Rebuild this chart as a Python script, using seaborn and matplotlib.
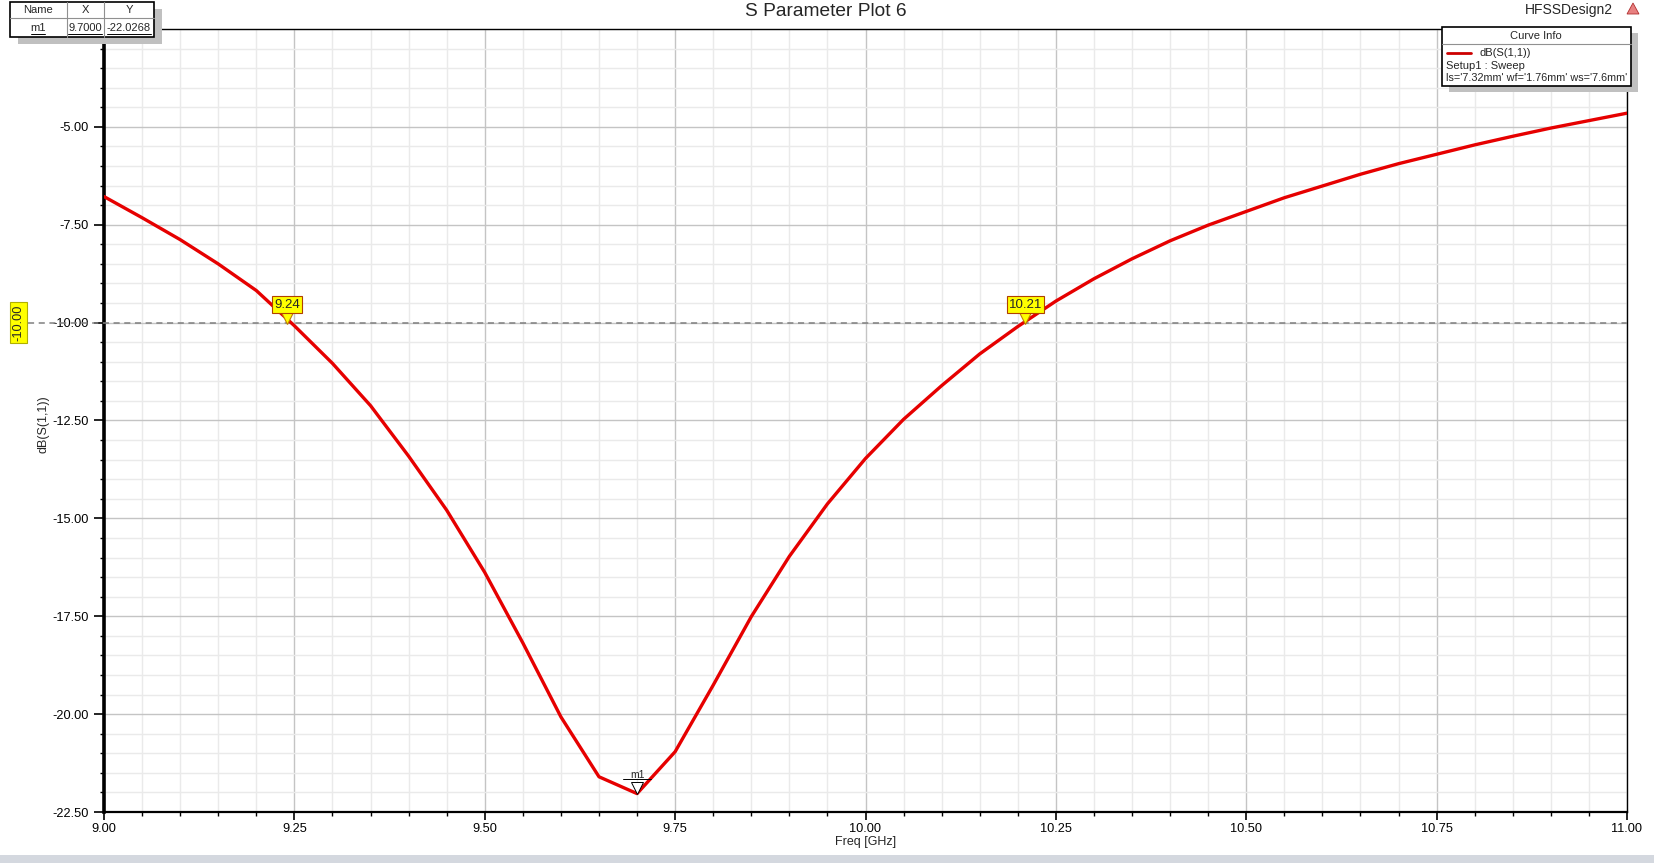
import numpy as np
import pandas as pd
import matplotlib
matplotlib.use("Agg")
import matplotlib.pyplot as plt
import matplotlib.transforms as mtransforms
from matplotlib.patches import Rectangle, Polygon
from matplotlib.ticker import MultipleLocator, FormatStrFormatter
import seaborn as sns

# values
freq = [9.00, 9.05, 9.10, 9.15, 9.20, 9.25, 9.30, 9.35, 9.40, 9.45, 9.50,
        9.55, 9.60, 9.65, 9.70, 9.75, 9.80, 9.85, 9.90, 9.95, 10.00,
        10.05, 10.10, 10.15, 10.20, 10.25, 10.30, 10.35, 10.40, 10.45, 10.50,
        10.55, 10.60, 10.65, 10.70, 10.75, 10.80, 10.85, 10.90, 10.95, 11.00]
s11 = [-6.78, -7.32, -7.88, -8.50, -9.18, -10.08, -11.04, -12.12, -13.41, -14.79, -16.38,
       -18.18, -20.07, -21.60, -22.03, -20.96, -19.26, -17.51, -15.97, -14.63, -13.47,
       -12.47, -11.61, -10.80, -10.10, -9.45, -8.88, -8.37, -7.91, -7.51, -7.16,
       -6.81, -6.51, -6.21, -5.94, -5.70, -5.46, -5.24, -5.03, -4.84, -4.65]
cross_x = [9.24, 10.21]
cross_labels = ["9.24", "10.21"]
ref_level = -10.0
m1_x, m1_y = 9.70, -22.0268
title = "S Parameter Plot 6"
design = "HFSSDesign2"
curve_name = "dB(S(1,1))"
setup_name = "Setup1 : Sweep"
params = "ls='7.32mm' wf='1.76mm' ws='7.6mm'"

df = pd.DataFrame({"Freq": freq, "S11": s11})

sns.set_style("white")
plt.rcParams["font.family"] = ["Liberation Sans", "DejaVu Sans"]

W, H = 1654, 863
fig = plt.figure(figsize=(W / 100, H / 100), dpi=100)
ax = fig.add_axes([104 / W, 1 - 812 / H, (1627 - 104) / W, (812 - 29) / H])

def fx(px):
    return px / W

def fy(py):
    return 1 - py / H

sns.lineplot(data=df, x="Freq", y="S11", ax=ax, color="#e60000", linewidth=2.4, zorder=5)

ax.set_xlim(9.0, 11.0)
ax.set_ylim(-22.5, -2.5)
ax.xaxis.set_major_locator(MultipleLocator(0.25))
ax.xaxis.set_minor_locator(MultipleLocator(0.05))
ax.yaxis.set_minor_locator(MultipleLocator(0.5))
# top label (-2.50) is not drawn in HFSS
ax.set_yticks([-22.5, -20, -17.5, -15, -12.5, -10, -7.5, -5])
ax.xaxis.set_major_formatter(FormatStrFormatter("%.2f"))
ax.yaxis.set_major_formatter(FormatStrFormatter("%.2f"))
ax.grid(which="major", color="#c4c4c4", linewidth=1.0)
ax.grid(which="minor", color="#eaeaea", linewidth=1.0)
ax.set_axisbelow(True)
ax.tick_params(bottom=True, left=True, top=False, right=False, which="both")
ax.tick_params(axis="y", which="major", direction="out", length=7, width=1.2,
               labelsize=9.2, pad=4, colors="black")
ax.tick_params(axis="y", which="minor", direction="out", length=3, width=1.0, colors="black")
ax.tick_params(axis="x", which="major", direction="out", length=6, width=1.2,
               labelsize=9.2, pad=2, colors="black")
ax.tick_params(axis="x", which="minor", direction="out", length=3, width=1.0, colors="black")
ax.set_xlabel("Freq [GHz]", fontsize=9)
ax.xaxis.set_label_coords(0.5, -0.038)
ax.xaxis.label.set_va("center")
ax.set_ylabel("dB(S(1,1))", fontsize=9)
ax.yaxis.set_label_coords(-0.0355, 0.495)
for side, lw in [("left", 2.6), ("bottom", 1.6), ("top", 1.0), ("right", 1.0)]:
    ax.spines[side].set_visible(True)
    ax.spines[side].set_color("black")
    ax.spines[side].set_linewidth(lw)

# -10 dB reference line, runs out to the left margin
ax.plot([-0.05, 1.0], [ref_level, ref_level], transform=ax.get_yaxis_transform(),
        color="#808080", linestyle=(0, (4, 3)), linewidth=1.1, clip_on=False, zorder=4)
ax.text(-0.056, ref_level, "-10.00", transform=ax.get_yaxis_transform(), rotation=90,
        ha="center", va="center", fontsize=9.2,
        bbox=dict(boxstyle="square,pad=0.18", fc="#ffff00", ec="#b0b000", lw=0.8))

# crossing markers
for cx, lab in zip(cross_x, cross_labels):
    tri = mtransforms.offset_copy(ax.transData, fig=fig, x=0, y=7, units="dots")
    ax.plot([cx], [ref_level], marker="v", markersize=11, color="#ffff00",
            markeredgecolor="#c08000", markeredgewidth=0.8, transform=tri, zorder=7)
    ax.annotate(lab, xy=(cx, ref_level), xytext=(0, 13), textcoords="offset points",
                ha="center", va="center", fontsize=9.5, zorder=8,
                bbox=dict(boxstyle="square,pad=0.16", fc="#ffff00", ec="#b04000", lw=0.8))

# m1 marker
tri = mtransforms.offset_copy(ax.transData, fig=fig, x=0, y=5, units="dots")
ax.plot([m1_x], [m1_y], marker="v", markersize=8, color="white", markeredgecolor="black",
        markeredgewidth=0.7, transform=tri, zorder=7)
ax.annotate("m1", xy=(m1_x, m1_y), xytext=(0, 13), textcoords="offset points",
            ha="center", va="center", fontsize=7.5, zorder=8)
ul = mtransforms.offset_copy(ax.transData, fig=fig, x=0, y=14, units="dots")
ax.plot([m1_x - 0.018, m1_x + 0.018], [m1_y, m1_y], color="black", lw=0.7, transform=ul, zorder=8)

# title and design name
fig.text(fx(826), fy(12), title, ha="center", va="center", fontsize=13.8)
fig.text(fx(1569), fy(10), design, ha="center", va="center", fontsize=10)
fig.patches.append(Polygon([[fx(1627), fy(14)], [fx(1639), fy(14)], [fx(1633), fy(3)]],
                           closed=True, transform=fig.transFigure, fc="#e88080", ec="#b03030", lw=0.6))

# marker table (top left)
fig.patches.append(Rectangle((fx(18), fy(44)), fx(154) - fx(10), fy(2) - fy(37),
                             transform=fig.transFigure, fc="#c0c0c0", ec="none", zorder=1))
fig.patches.append(Rectangle((fx(10), fy(37)), fx(154) - fx(10), fy(2) - fy(37),
                             transform=fig.transFigure, fc="white", ec="black", lw=1.2, zorder=2))
for px in [67, 104]:
    fig.lines.append(plt.Line2D([fx(px), fx(px)], [fy(2), fy(37)], transform=fig.transFigure,
                                color="#909090", lw=0.8, zorder=3))
fig.lines.append(plt.Line2D([fx(10), fx(154)], [fy(18), fy(18)], transform=fig.transFigure,
                            color="#909090", lw=0.8, zorder=3))
for px, txt in [(38, "Name"), (85, "X"), (129, "Y")]:
    fig.text(fx(px), fy(10), txt, ha="center", va="center", fontsize=8, zorder=4)
for px, txt, half in [(38, "m1", 7), (85, "9.7000", 17), (129, "-22.0268", 22)]:
    fig.text(fx(px), fy(28), txt, ha="center", va="center", fontsize=8, zorder=4)
    fig.lines.append(plt.Line2D([fx(px - half), fx(px + half)], [fy(34), fy(34)],
                                transform=fig.transFigure, color="black", lw=0.7, zorder=4))

# curve info box (top right)
fig.patches.append(Rectangle((fx(1449), fy(92)), fx(1631) - fx(1442), fy(27) - fy(86),
                             transform=fig.transFigure, fc="#c0c0c0", ec="none", zorder=1))
fig.patches.append(Rectangle((fx(1442), fy(86)), fx(1631) - fx(1442), fy(27) - fy(86),
                             transform=fig.transFigure, fc="white", ec="black", lw=1.2, zorder=2))
fig.lines.append(plt.Line2D([fx(1442), fx(1631)], [fy(44), fy(44)], transform=fig.transFigure,
                            color="#909090", lw=0.8, zorder=3))
fig.text(fx(1536), fy(36), "Curve Info", ha="center", va="center", fontsize=8, zorder=4)
fig.lines.append(plt.Line2D([fx(1447), fx(1471)], [fy(53), fy(53)], transform=fig.transFigure,
                            color="#cc0000", lw=2, zorder=4))
fig.text(fx(1479), fy(53), curve_name, ha="left", va="center", fontsize=8, zorder=4)
fig.text(fx(1446), fy(66), setup_name, ha="left", va="center", fontsize=8, zorder=4)
fig.text(fx(1446), fy(78), params, ha="left", va="center", fontsize=7.8, zorder=4)

# window strip at the bottom
fig.patches.append(Rectangle((0, 0), 1, fy(855), transform=fig.transFigure,
                             fc="#d4d8df", ec="none", zorder=0))

fig.savefig("out.png", dpi=100)
